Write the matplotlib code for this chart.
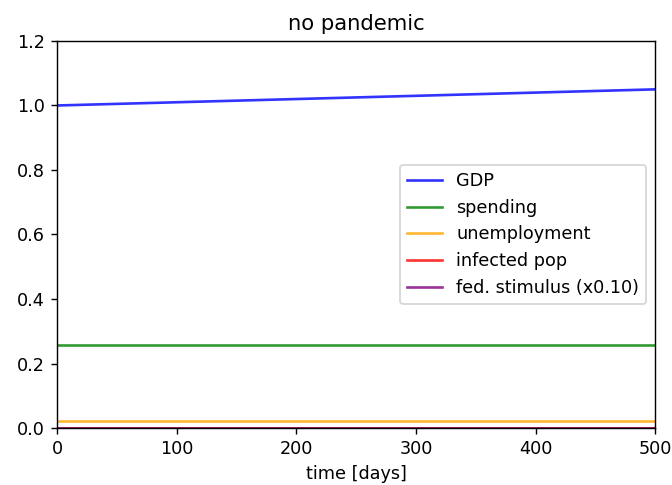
import matplotlib
matplotlib.use("Agg")
import matplotlib.pyplot as plt

days = [0, 100, 200, 300, 400, 500]
gdp = [1.000, 1.010, 1.020, 1.030, 1.040, 1.050]
spending = [0.256, 0.256, 0.256, 0.256, 0.256, 0.256]
unemployment = [0.022, 0.022, 0.022, 0.022, 0.022, 0.022]
infected = [0.0, 0.0, 0.0, 0.0, 0.0, 0.0]
stimulus = [0.0, 0.0, 0.0, 0.0, 0.0, 0.0]

DPI = 127
fig = plt.figure(figsize=(672 / DPI, 485 / DPI), dpi=DPI)
ax = fig.add_axes([0.085, 0.1175, 0.89, 0.798])
ax.plot(days, gdp, color="blue", alpha=0.8, label="GDP")
ax.plot(days, spending, color="green", alpha=0.8, label="spending")
ax.plot(days, unemployment, color="orange", alpha=0.8, label="unemployment")
ax.plot(days, infected, color="red", alpha=0.8, label="infected pop")
ax.plot(days, stimulus, color="purple", alpha=0.8, label="fed. stimulus (x0.10)")
ax.set_xlim(0, 500)
ax.set_ylim(0, 1.2)
ax.set_xlabel("time [days]")
ax.set_title("no pandemic")
ax.legend(loc="center right")
fig.savefig("out.png", dpi=DPI)
